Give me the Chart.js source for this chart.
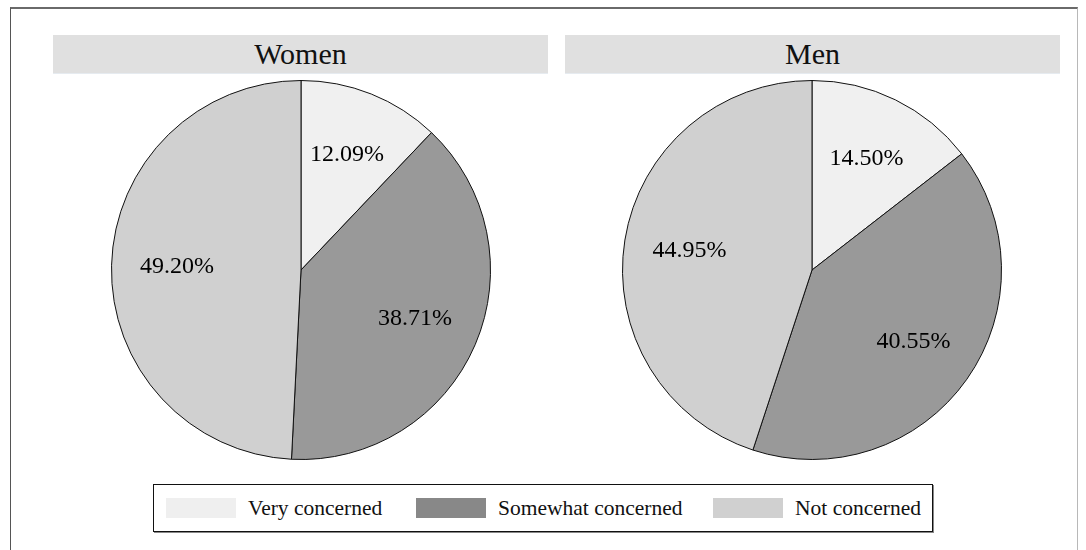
<!DOCTYPE html>
<html>
<head>
<meta charset="utf-8">
<script src="https://cdn.jsdelivr.net/npm/chart.js@4/dist/chart.umd.min.js"></script>
<style>
  html, body { margin: 0; padding: 0; background: #fff; overflow: hidden; }
  body { width: 1086px; height: 550px; position: relative; font-family: "Liberation Serif", "Times New Roman", serif; }
  .frame { position: absolute; left: 10px; top: 7px; width: 1066px; height: 600px;
           border-top: 2px solid #6a6a6a; border-left: 1px solid #555; border-right: 1px solid #b8b8b8; }
  .head { position: absolute; top: 35px; height: 38px; background: #e0e0e0;
          border-bottom: 1px solid #e6ebf0; font-size: 30px; line-height: 37px; text-align: center; color: #111; }
  .pie { position: absolute; top: 80px; width: 380px; height: 380px; }
  .legend { position: absolute; left: 153px; top: 484px; width: 778px; height: 46px;
            border: 1px solid #111; box-shadow: 1px 1px 0 #888; font-size: 21.5px; color: #111; }
  .item { position: absolute; top: 13px; height: 20px; line-height: 20px; white-space: nowrap; }
  .sw { display: inline-block; width: 70px; height: 20px; vertical-align: top; margin-right: 12px; }
</style>
</head>
<body>
<div class="frame"></div>
<div class="head" style="left:53px;width:495px;" id="h0"></div>
<div class="head" style="left:565px;width:495px;" id="h1"></div>
<div class="pie" style="left:111px;"><canvas id="c0" width="380" height="380"></canvas></div>
<div class="pie" style="left:622px;"><canvas id="c1" width="380" height="380"></canvas></div>
<div class="legend" id="legend"></div>
<script>
// Shares of respondents by level of concern, per group
const groups = ["Women", "Men"];
const categories = ["Very concerned", "Somewhat concerned", "Not concerned"];
const women = [12.09, 38.71, 49.20];
const men = [14.50, 40.55, 44.95];
const sliceColors = ["#f0f0f0", "#999999", "#d0d0d0"];
const swatchColors = ["#efefef", "#888888", "#d0d0d0"];

const LABEL_FONT = '24px "Liberation Serif"';

// Percentage text inside each slice
const sliceLabels = {
  id: "sliceLabels",
  afterDatasetsDraw(chart) {
    const ctx = chart.ctx;
    const meta = chart.getDatasetMeta(0);
    const values = chart.data.datasets[0].data;
    ctx.save();
    ctx.font = LABEL_FONT + ', "Times New Roman", serif';
    ctx.fillStyle = "#000";
    ctx.textAlign = "center";
    ctx.textBaseline = "middle";
    meta.data.forEach((arc, i) => {
      const p = arc.getProps(["x", "y", "startAngle", "endAngle", "outerRadius"], true);
      const mid = (p.startAngle + p.endAngle) / 2;
      const r = p.outerRadius * 0.655;
      ctx.fillText(values[i].toFixed(2) + "%", p.x + Math.cos(mid) * r, p.y + Math.sin(mid) * r);
    });
    ctx.restore();
  }
};

function makePie(id, values) {
  return new Chart(document.getElementById(id), {
    type: "pie",
    data: {
      labels: categories,
      datasets: [{
        data: values,
        backgroundColor: sliceColors,
        borderColor: "#111",
        borderWidth: 1
      }]
    },
    options: {
      responsive: false,
      animation: false,
      layout: { padding: 0 },
      plugins: { legend: { display: false }, tooltip: { enabled: false } }
    },
    plugins: [sliceLabels]
  });
}

document.getElementById("h0").textContent = groups[0];
document.getElementById("h1").textContent = groups[1];

// Shared legend below both pies
const legendLeft = [12, 262, 559];
const legend = document.getElementById("legend");
categories.forEach((name, i) => {
  const item = document.createElement("div");
  item.className = "item";
  item.style.left = legendLeft[i] + "px";
  const sw = document.createElement("span");
  sw.className = "sw";
  sw.style.background = swatchColors[i];
  item.appendChild(sw);
  item.appendChild(document.createTextNode(name));
  legend.appendChild(item);
});

// Draw once the serif face is ready so the canvas text uses it
document.fonts.load(LABEL_FONT, "0123456789.%").catch(() => {}).then(() => {
  makePie("c0", women);
  makePie("c1", men);
});
</script>
</body>
</html>
